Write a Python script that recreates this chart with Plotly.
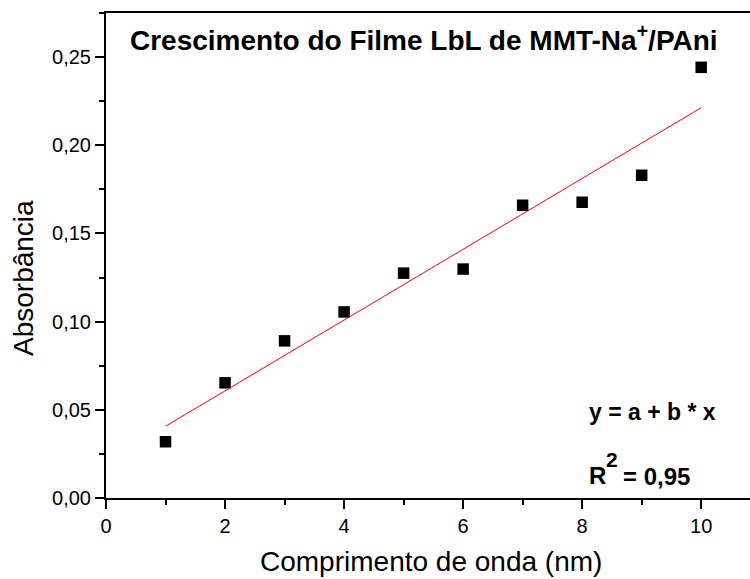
import numpy as np
import plotly.graph_objects as go

# Layer count (x) and measured absorbance (y)
camadas = [1, 2, 3, 4, 5, 6, 7, 8, 9, 10]
absorbancia = [0.0319, 0.0653, 0.0891, 0.1055, 0.1275, 0.1298, 0.1660, 0.1677, 0.1830, 0.2442]

x_ticks = [0, 2, 4, 6, 8, 10]
y_ticks = [0.00, 0.05, 0.10, 0.15, 0.20, 0.25]

titulo = "Crescimento do Filme LbL de MMT-Na<sup>+</sup>/PAni"
eixo_x = "Comprimento de onda (nm)"
eixo_y = "Absorbância"
equacao = "y = a + b * x"
r2_texto = "= 0,95"

FONT = "Liberation Sans, Arial, sans-serif"

# Linear fit y = a + b*x over the measured points
b, a = np.polyfit(camadas, absorbancia, 1)
x_fit = [camadas[0], camadas[-1]]
y_fit = [a + b * xv for xv in x_fit]

fig = go.Figure()
fig.add_trace(go.Scatter(
    x=camadas, y=absorbancia, mode="markers",
    marker=dict(symbol="square", size=11.5, color="black", line=dict(width=0)),
    showlegend=False, hoverinfo="skip",
))
fig.add_trace(go.Scatter(
    x=x_fit, y=y_fit, mode="lines",
    line=dict(color="red", width=1),
    showlegend=False, hoverinfo="skip",
))

W, H = 750, 579
L, R, T, B = 106, 0, 13, 81
pw, ph = W - L - R, H - T - B


def px(xp):
    return (xp - L) / pw


def py(yp):
    return (H - B - yp) / ph


axis_common = dict(
    showline=True, linecolor="black", linewidth=2,
    ticks="outside", ticklen=9, tickwidth=1.5, tickcolor="black",
    showgrid=False, zeroline=False,
    tickfont=dict(family=FONT, size=20, color="black"),
)

fig.update_layout(
    width=W, height=H,
    margin=dict(l=L, r=R, t=T, b=B, pad=0),
    paper_bgcolor="white", plot_bgcolor="white",
    separators=",.",
    xaxis=dict(
        range=[0, 10.82], tickvals=x_ticks, mirror=True,
        minor=dict(dtick=1, ticks="outside", ticklen=5, tickwidth=1.5, tickcolor="black"),
        **axis_common,
    ),
    yaxis=dict(
        range=[0, 0.275], tickvals=y_ticks, tickformat=".2f", mirror=False,
        minor=dict(dtick=0.025, ticks="outside", ticklen=5, tickwidth=1.5, tickcolor="black"),
        **axis_common,
    ),
)

annotations = [
    dict(text=f"<b>{titulo}</b>", x=px(128), y=py(38), xanchor="left", yanchor="middle",
         font=dict(family=FONT, size=28, color="black")),
    dict(text=eixo_x, x=px(431), y=py(561), xanchor="center", yanchor="middle",
         font=dict(family=FONT, size=28, color="black")),
    dict(text=eixo_y, x=px(23), y=py(278), xanchor="center", yanchor="middle", textangle=-90,
         font=dict(family=FONT, size=28, color="black")),
    dict(text=f"<b>{equacao}</b>", x=px(587), y=py(412), xanchor="left", yanchor="middle",
         font=dict(family=FONT, size=23, color="black")),
    dict(text="<b>R</b>", x=px(587), y=py(475), xanchor="left", yanchor="middle",
         font=dict(family=FONT, size=24, color="black")),
    dict(text="<b>2</b>", x=px(604), y=py(459), xanchor="left", yanchor="middle",
         font=dict(family=FONT, size=21, color="black")),
    dict(text=f"<b>{r2_texto}</b>", x=px(621), y=py(476), xanchor="left", yanchor="middle",
         font=dict(family=FONT, size=24, color="black")),
]
for ann in annotations:
    ann.update(xref="paper", yref="paper", showarrow=False)
fig.update_layout(annotations=annotations)

fig.write_html("out.html")
